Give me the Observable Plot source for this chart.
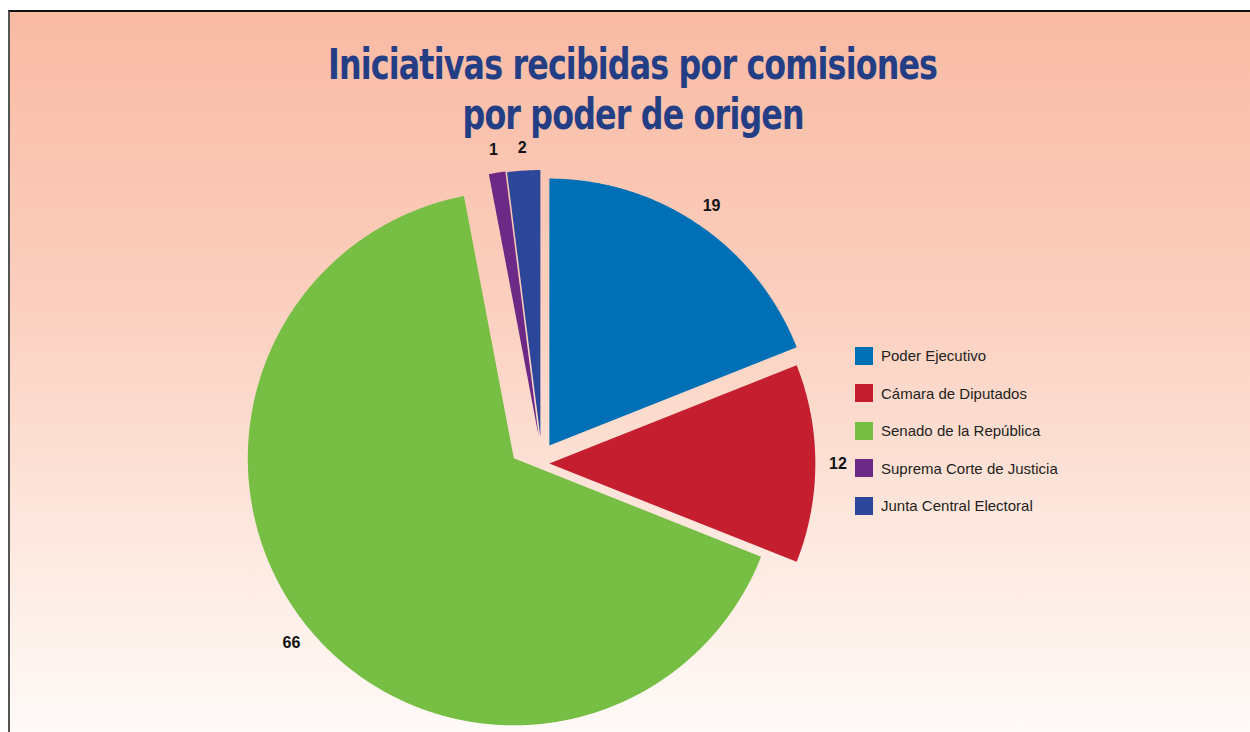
<!DOCTYPE html>
<html>
<head>
<meta charset="utf-8">
<script src="https://cdn.jsdelivr.net/npm/d3@7"></script>
<script src="https://cdn.jsdelivr.net/npm/@observablehq/plot@0.6"></script>
<style>
  html, body { margin: 0; padding: 0; background: #fff; }
  #page { position: relative; width: 1250px; height: 732px; overflow: hidden; background: #fff; }
  #frame { position: absolute; left: 8px; top: 10px; right: 0; bottom: 0;
    border-top: 2px solid #111; border-left: 2px solid #555;
    background: linear-gradient(to bottom, #F9BAA3 0%, #FBCFBE 40%, #FDE6DC 70%, #FFFAF8 100%); }
  #title { position: absolute; left: 0; width: 1266px; top: 40px; text-align: center;
    font-family: "DejaVu Sans", sans-serif; font-stretch: condensed; font-weight: bold;
    font-size: 42px; line-height: 50px; color: #243E86; letter-spacing: -1px; }
  #title span { display: inline-block; transform: scaleX(0.84); transform-origin: 50% 50%; white-space: nowrap; }
  #chart { position: absolute; left: 0; top: 0; }
  #legend { position: absolute; left: 855px; top: 337px; font-family: "Liberation Sans", Arial, sans-serif;
    font-size: 15px; color: #231F20; }
  .item { display: flex; align-items: center; height: 37.5px; }
  .sw { width: 18px; height: 18px; margin-right: 8px; }
</style>
</head>
<body>
<div id="page">
  <div id="frame"></div>
  <div id="chart"></div>
  <div id="title"><span>Iniciativas recibidas por comisiones</span><br><span>por poder de origen</span></div>
  <div id="legend"></div>
</div>
<script>
const categories = ["Poder Ejecutivo", "Cámara de Diputados", "Senado de la República", "Suprema Corte de Justicia", "Junta Central Electoral"];
const values = [19, 12, 66, 1, 2];
const colors = ["#0070B6", "#C41E2F", "#76BF44", "#6C2A86", "#2C4699"];

// layout (pixels)
const W = 1250, H = 732;
const cx = 532, cy = 454;        // pie centre
const Rx = 266, Ry = 267;        // pixel radius of the unit circle
const explode = 0.0717;          // slice offset in radius units
const explodeTurn = 0.489;       // direction of the offset relative to each slice's bisector (radians)
const labelR = 1.085;            // label distance from the exploded slice centre, radius units

const arcs = d3.pie().sort(null).value(d => d)(values);

const slicePts = [];
const labels = [];
arcs.forEach((a, i) => {
  const mid = (a.startAngle + a.endAngle) / 2;
  const ox = explode * Math.sin(mid + explodeTurn), oy = explode * Math.cos(mid + explodeTurn);
  const cat = categories[i];
  slicePts.push({cat, x: ox, y: oy});
  const n = Math.max(4, Math.ceil((a.endAngle - a.startAngle) / 0.005));
  for (let k = 0; k <= n; k++) {
    const t = a.startAngle + (a.endAngle - a.startAngle) * k / n;
    slicePts.push({cat, x: ox + Math.sin(t), y: oy + Math.cos(t)});
  }
  labels.push({cat, value: values[i], x: ox + labelR * Math.sin(mid), y: oy + labelR * Math.cos(mid)});
});

const chart = Plot.plot({
  width: W, height: H,
  margin: 0,
  style: {background: "transparent", overflow: "visible"},
  x: {domain: [-cx / Rx, (W - cx) / Rx], axis: null},
  y: {domain: [(cy - H) / Ry, cy / Ry], axis: null},
  color: {domain: categories, range: colors},
  marks: [
    Plot.line(slicePts, {x: "x", y: "y", z: "cat", fill: "cat", stroke: null, curve: "linear-closed"}),
    Plot.text(labels, {x: "x", y: "y", text: d => String(d.value), fill: "#111",
      fontSize: 16, fontWeight: "bold", fontFamily: "Liberation Sans, Arial, sans-serif"})
  ]
});
document.getElementById("chart").appendChild(chart);

const legend = document.getElementById("legend");
categories.forEach((c, i) => {
  const item = document.createElement("div");
  item.className = "item";
  item.innerHTML = `<div class="sw" style="background:${colors[i]}"></div><div>${c}</div>`;
  legend.appendChild(item);
});
</script>
</body>
</html>
